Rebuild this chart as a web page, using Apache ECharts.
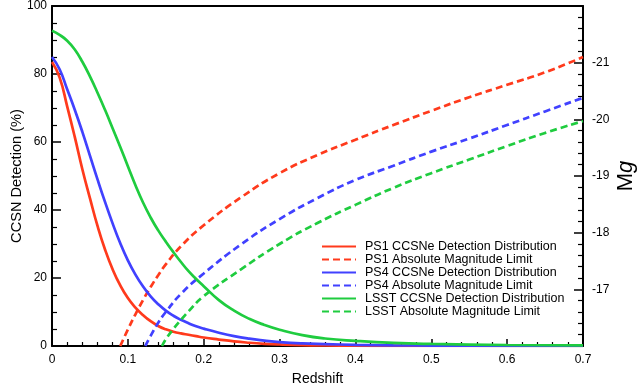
<!DOCTYPE html>
<html>
<head>
<meta charset="utf-8">
<script src="https://cdn.jsdelivr.net/npm/echarts@6/dist/echarts.min.js"></script>
<style>
  html, body { margin: 0; padding: 0; background: #fff; }
  #main { width: 639px; height: 389px; }
</style>
</head>
<body>
<div id="main"></div>
<script>
// redshift grid for the detection distributions (left axis, %)
const zDet = [0, 0.01, 0.02, 0.03, 0.04, 0.05, 0.06, 0.07, 0.08, 0.09, 0.10, 0.11, 0.12, 0.13, 0.14, 0.15,
  0.16, 0.17, 0.18, 0.19, 0.20, 0.22, 0.24, 0.26, 0.28, 0.30, 0.33, 0.36, 0.40, 0.45, 0.50, 0.60, 0.70];
const ps1Det = [83.5, 79, 70.5, 61.5, 52, 43.5, 35.3, 28.3, 22.5, 17.8, 14.1, 11.3, 9.1, 7.3, 5.9, 4.9,
  4.2, 3.7, 3.3, 2.9, 2.5, 1.9, 1.35, 0.95, 0.65, 0.45, 0.25, 0.15, 0.08, 0.04, 0.02, 0.01, 0];
const ps4Det = [85, 81.4, 75.5, 69.5, 63, 56, 49, 42.3, 36, 30.2, 25.2, 21, 17.5, 14.6, 12.3, 10.4,
  8.9, 7.7, 6.7, 5.8, 5.1, 3.9, 2.9, 2.15, 1.6, 1.15, 0.75, 0.55, 0.35, 0.2, 0.12, 0.05, 0.02];
const lsstDet = [92.7, 91.5, 89.8, 87.2, 83.6, 79.3, 74.5, 69.4, 64, 58.5, 52.9, 47.3, 42.2, 37.8, 34, 30.7,
  27.6, 24.7, 22, 19.7, 17.6, 13.5, 10.4, 8, 6.2, 4.8, 3.2, 2.2, 1.5, 0.9, 0.6, 0.3, 0.2];

// absolute magnitude limits (right axis, Mg)
const zPs1Lim = [0.09, 0.10, 0.11, 0.12, 0.13, 0.14, 0.15, 0.17, 0.20, 0.25, 0.30, 0.35, 0.40, 0.45, 0.50, 0.55, 0.60, 0.65, 0.70];
const ps1Lim = [-16.0, -16.29, -16.56, -16.81, -17.04, -17.25, -17.44, -17.76, -18.13, -18.63, -19.05, -19.37, -19.64, -19.9, -20.15, -20.39, -20.61, -20.83, -21.1];
const zPs4Lim = [0.123, 0.13, 0.14, 0.15, 0.17, 0.20, 0.25, 0.30, 0.35, 0.40, 0.45, 0.50, 0.55, 0.60, 0.65, 0.70];
const ps4Lim = [-16.0, -16.18, -16.41, -16.6, -16.92, -17.28, -17.8, -18.24, -18.61, -18.93, -19.18, -19.43, -19.66, -19.9, -20.14, -20.38];
const zLsstLim = [0.145, 0.15, 0.16, 0.17, 0.18, 0.20, 0.25, 0.30, 0.35, 0.40, 0.45, 0.50, 0.55, 0.60, 0.65, 0.70];
const lsstLim = [-16.0, -16.12, -16.3, -16.46, -16.61, -16.88, -17.36, -17.8, -18.17, -18.49, -18.79, -19.05, -19.29, -19.53, -19.76, -19.97];

const RED = "#ff3a1c";
const BLUE = "#4141ff";
const GREEN = "#1fcc3f";
const FONT = "Liberation Sans, Arial, sans-serif";

const pairs = (xs, ys) => xs.map((x, i) => [x, ys[i]]);

const solid = (name, color, xs, ys) => ({
  name, type: "line", xAxisIndex: 0, yAxisIndex: 0,
  data: pairs(xs, ys), symbol: "none", smooth: 0.5,
  lineStyle: { color, width: 2.7 }, itemStyle: { color },
});
const dashed = (name, color, xs, ys) => ({
  name, type: "line", xAxisIndex: 0, yAxisIndex: 1,
  data: pairs(xs, ys), symbol: "none", smooth: 0.5,
  lineStyle: { color, width: 2.7, type: [7, 4] }, itemStyle: { color },
});

const chart = echarts.init(document.getElementById("main"));
const axisLine = { show: true, onZero: false, lineStyle: { color: "#000", width: 2 } };

chart.setOption({
  animation: false,
  textStyle: { fontFamily: FONT },
  grid: { left: 52, right: 56, top: 6, bottom: 43, outerBoundsMode: "none", containLabel: false },
  legend: {
    orient: "vertical", left: 321, top: 240, padding: 0,
    itemWidth: 34, itemHeight: 10, itemGap: 0,
    itemStyle: { opacity: 0 },
    textStyle: { fontFamily: FONT, fontSize: 12.5, lineHeight: 12.8, color: "#000", padding: [0, 0, 0, 4] },
    data: [
      "PS1 CCSNe Detection Distribution", "PS1 Absolute Magnitude Limit",
      "PS4 CCSNe Detection Distribution", "PS4 Absolute Magnitude Limit",
      "LSST CCSNe Detection Distribution", "LSST Absolute Magnitude Limit",
    ],
  },
  xAxis: [
    {
      type: "value", position: "bottom", min: 0, max: 0.7, interval: 0.1,
      axisLine,
      axisTick: { inside: true, length: 7, lineStyle: { color: "#000", width: 1.5 } },
      minorTick: { show: true, splitNumber: 5, length: 4, lineStyle: { color: "#000", width: 1.2 } },
      splitLine: { show: false },
      axisLabel: { color: "#000", fontSize: 12, margin: 8, fontFamily: FONT,
        formatter: (v) => (v === 0 ? "0" : v.toFixed(1)) },
      name: "Redshift", nameLocation: "middle", nameGap: 26, nameMoveOverlap: false,
      nameTextStyle: { color: "#000", fontSize: 14, fontFamily: FONT },
    },
    {
      type: "value", position: "top", min: 0, max: 0.7,
      axisLine, axisTick: { show: false }, axisLabel: { show: false }, splitLine: { show: false },
    },
  ],
  yAxis: [
    {
      type: "value", position: "left", min: 0, max: 100, interval: 20,
      axisLine,
      axisTick: { inside: true, length: 9, lineStyle: { color: "#000", width: 1.5 } },
      minorTick: { show: true, splitNumber: 4, length: 5, lineStyle: { color: "#000", width: 1.2 } },
      splitLine: { show: false },
      axisLabel: { color: "#000", fontSize: 12, margin: 5, fontFamily: FONT },
      name: "CCSN Detection (%)", nameLocation: "middle", nameGap: 28, nameMoveOverlap: false,
      nameTextStyle: { color: "#000", fontSize: 14.6, fontFamily: FONT },
    },
    {
      type: "value", position: "right", min: -22, max: -16, interval: 1, inverse: true,
      axisLine,
      axisTick: { inside: true, length: 9, lineStyle: { color: "#000", width: 1.5 } },
      minorTick: { show: true, splitNumber: 5, length: 5, lineStyle: { color: "#000", width: 1.2 } },
      splitLine: { show: false },
      axisLabel: { color: "#000", fontSize: 12, margin: 9, fontFamily: FONT,
        formatter: (v) => (v === -22 || v === -16 ? "" : String(v)) },
      name: "M{i|g}", nameLocation: "middle", nameGap: 32, nameRotate: 90, nameMoveOverlap: false,
      nameTextStyle: { color: "#000", fontSize: 22, fontFamily: FONT,
        rich: { i: { fontStyle: "italic", fontSize: 22, fontFamily: FONT, color: "#000" } } },
    },
  ],
  series: [
    solid("PS1 CCSNe Detection Distribution", RED, zDet, ps1Det),
    dashed("PS1 Absolute Magnitude Limit", RED, zPs1Lim, ps1Lim),
    solid("PS4 CCSNe Detection Distribution", BLUE, zDet, ps4Det),
    dashed("PS4 Absolute Magnitude Limit", BLUE, zPs4Lim, ps4Lim),
    solid("LSST CCSNe Detection Distribution", GREEN, zDet, lsstDet),
    dashed("LSST Absolute Magnitude Limit", GREEN, zLsstLim, lsstLim),
  ],
});
</script>
</body>
</html>
